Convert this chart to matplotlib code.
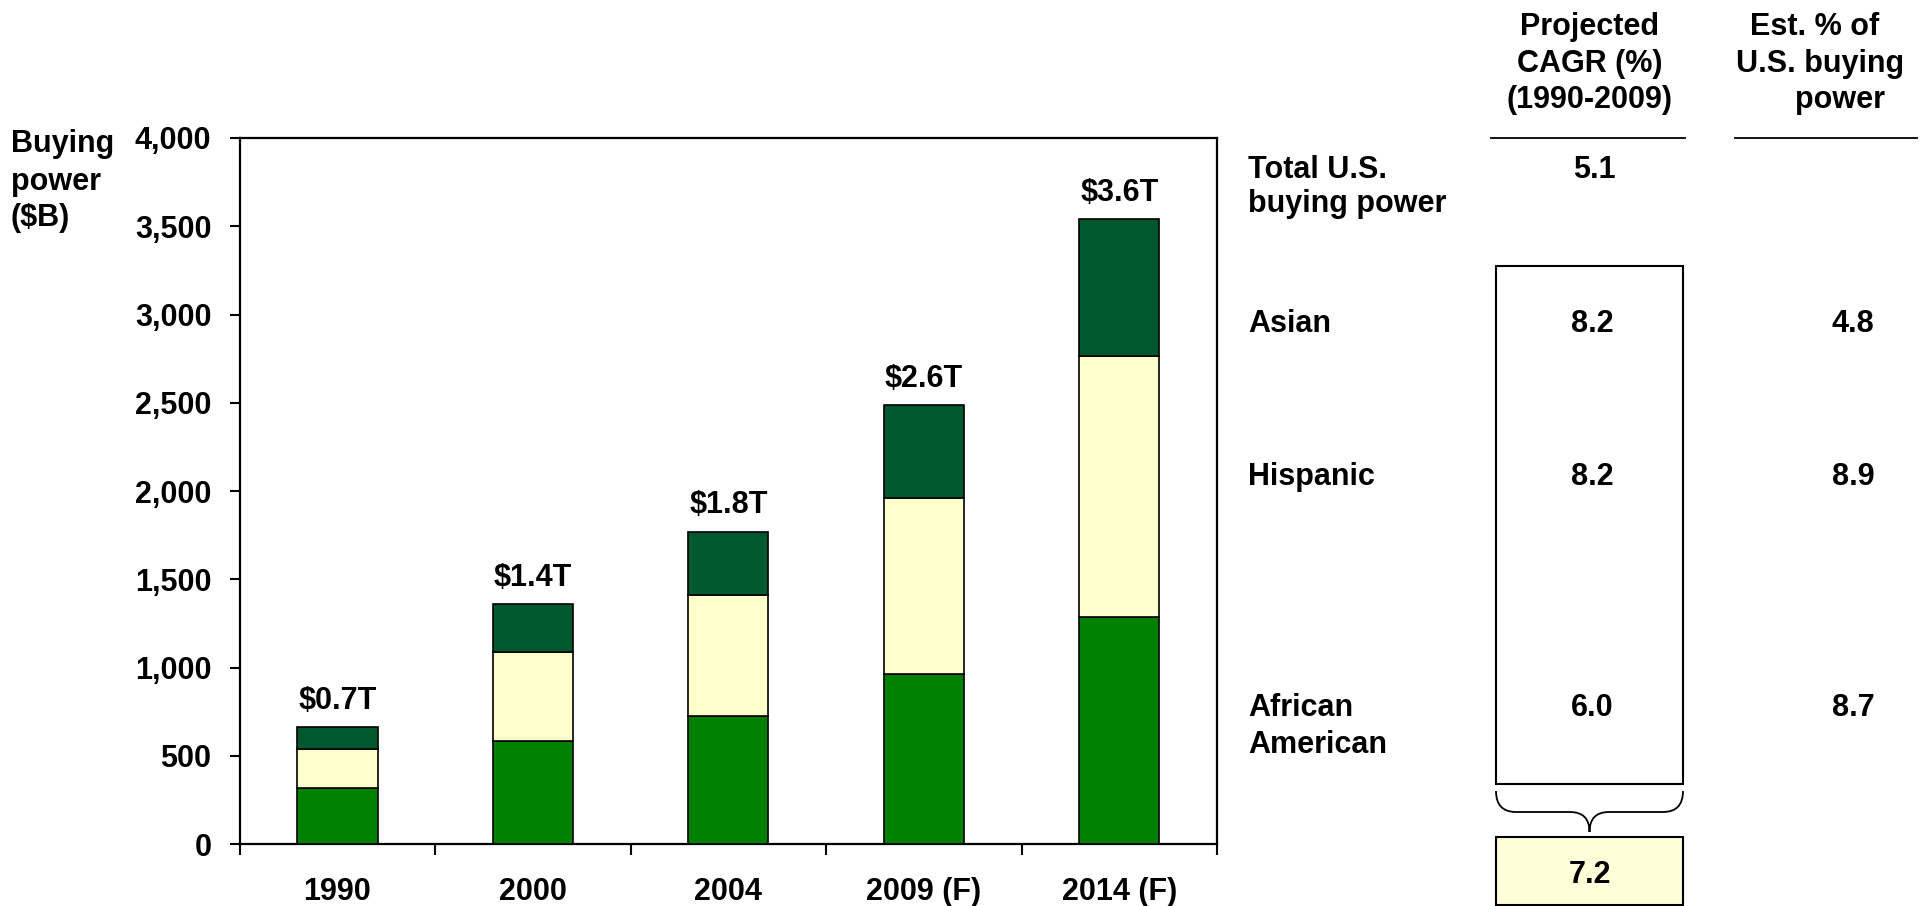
import matplotlib
matplotlib.use('Agg')
import matplotlib.pyplot as plt
import numpy as np
from matplotlib.patches import Rectangle, PathPatch
from matplotlib.path import Path

# ---------------- data ----------------
years = ['1990', '2000', '2004', '2009 (F)', '2014 (F)']
african_american = [316, 583, 727, 963, 1288]
hispanic = [222, 503, 684, 997, 1479]
asian = [123, 272, 359, 527, 774]
total_labels = [r'\$0.7T', r'\$1.4T', r'\$1.8T', r'\$2.6T', r'\$3.6T']
y_ticks = [0, 500, 1000, 1500, 2000, 2500, 3000, 3500, 4000]

groups = ['Asian', 'Hispanic', 'African\nAmerican']
group_cagr = ['8.2', '8.2', '6.0']
group_share = ['4.8', '8.9', '8.7']
total_name = 'Total U.S.\nbuying power'
total_cagr = '5.1'
combined_cagr = '7.2'
header_cagr = 'Projected\nCAGR (%)\n(1990-2009)'
header_share = 'Est. % of\nU.S. buying\npower'

# ---------------- style ----------------
plt.rcParams['font.family'] = ['Liberation Sans', 'DejaVu Sans']
plt.rcParams['font.weight'] = 'bold'
FS = 22
C_AA = '#008000'
C_HI = '#FFFFCC'
C_AS = '#00582E'

W, H = 1925, 906
fig = plt.figure(figsize=(W / 100, H / 100), dpi=100)

ax_l, ax_r, ax_t, ax_b = 239.75, 1217, 138, 844
ax = fig.add_axes([ax_l / W, 1 - ax_b / H, (ax_r - ax_l) / W, (ax_b - ax_t) / H])

x = np.arange(len(years))
bw = 0.41
aa = np.array(african_american)
hi = np.array(hispanic)
asn = np.array(asian)
ax.bar(x, aa, bw, color=C_AA, edgecolor='black', linewidth=1.2, zorder=3)
ax.bar(x, hi, bw, bottom=aa, color=C_HI, edgecolor='black', linewidth=1.2, zorder=3)
ax.bar(x, asn, bw, bottom=aa + hi, color=C_AS, edgecolor='black', linewidth=1.2, zorder=3)

tot = aa + hi + asn
for xi, t, lab in zip(x, tot, total_labels):
    ax.annotate(lab, (xi, t), xytext=(0, 19), textcoords='offset points',
                ha='center', va='center', fontsize=FS, fontweight='bold')

ax.set_xlim(-0.5, len(years) - 0.5)
ax.set_ylim(0, 4000)
ax.set_yticks(y_ticks)
ax.set_yticklabels([f'{v:,}' for v in y_ticks], fontsize=FS, fontweight='bold')
ax.set_xticks(x)
ax.set_xticklabels(years, fontsize=FS, fontweight='bold')
ax.set_xticks(np.arange(len(years) + 1) - 0.5, minor=True)
ax.tick_params(axis='y', which='major', direction='out', length=7.5, width=1.5, pad=13)
ax.tick_params(axis='x', which='major', length=0, pad=23.5)
ax.tick_params(axis='x', which='minor', direction='out', length=8, width=1.5)
for s in ax.spines.values():
    s.set_linewidth(1.6)

# ---------------- overlay (pixel coordinates) ----------------
ov = fig.add_axes([0, 0, 1, 1])
ov.set_xlim(0, W)
ov.set_ylim(H, 0)
ov.axis('off')

def txt(xp, yp, s, ha='left'):
    ov.text(xp, yp, s, ha=ha, va='baseline', fontsize=FS, fontweight='bold')

# y-axis title
for yp, line in zip([152, 190, 226], ['Buying', 'power', r'(\$B)']):
    txt(11, yp, line)

# headers
for yp, xc, line in zip([35, 72, 108], [1590, 1590, 1590], header_cagr.split('\n')):
    txt(xc, yp, line, ha='center')
for yp, xc, line in zip([35, 72, 108], [1815, 1820, 1840], header_share.split('\n')):
    txt(xc, yp, line, ha='center')
ov.plot([1491, 1685], [138, 138], color='black', lw=1.3)
ov.plot([1735, 1917], [138, 138], color='black', lw=1.3)

# total row
lab_x = 1248
for yp, line in zip([177.5, 212], total_name.split('\n')):
    txt(lab_x, yp, line)
txt(1594, 177.5, total_cagr, ha='center')

# group rows
row_base = [331.5, 485, 716]
for yp, g, c, s in zip(row_base, groups, group_cagr, group_share):
    for k, line in enumerate(g.split('\n')):
        txt(lab_x, yp + 37 * k, line)
    txt(1592, yp, c, ha='center')
    txt(1853, yp, s, ha='center')

# box around group CAGRs
ov.add_patch(Rectangle((1496, 266), 187, 518, fill=False, edgecolor='black', lw=1.5))

# brace
verts = [(1496, 791), (1496, 812), (1516, 812), (1570, 812), (1589.5, 812), (1589.5, 832),
         (1589.5, 812), (1609, 812), (1663, 812), (1683, 812), (1683, 791)]
codes = [Path.MOVETO, Path.CURVE3, Path.CURVE3, Path.LINETO, Path.CURVE3, Path.CURVE3,
         Path.CURVE3, Path.CURVE3, Path.LINETO, Path.CURVE3, Path.CURVE3]
ov.add_patch(PathPatch(Path(verts, codes), fill=False, edgecolor='black', lw=1.3))

# combined CAGR box
ov.add_patch(Rectangle((1496, 837), 187, 68, facecolor='#FEFED8', edgecolor='black', lw=1.5))
txt(1590, 883, combined_cagr, ha='center')

fig.savefig('out.png', dpi=100)
